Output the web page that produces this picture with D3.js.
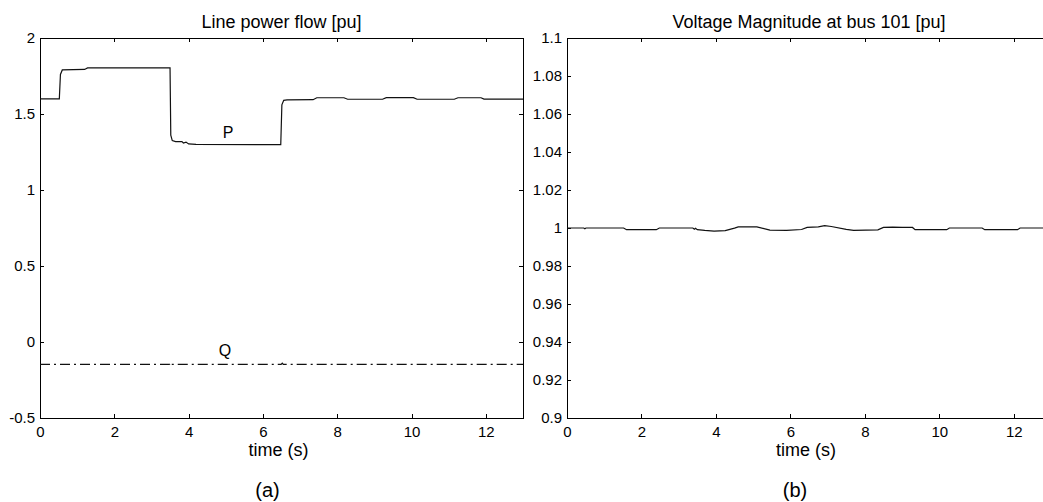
<!DOCTYPE html>
<html>
<head>
<meta charset="utf-8">
<script src="https://cdn.jsdelivr.net/npm/d3@7"></script>
<style>
  body { margin: 0; background: #fff; }
  svg { font-family: "Liberation Sans", Arial, sans-serif; }
  .axis path, .axis line { stroke: #000; stroke-width: 1px; shape-rendering: crispEdges; }
  .axis text { font-size: 15px; fill: #000; }
</style>
</head>
<body>
<svg id="svgMain" width="1043" height="502"></svg>
<script>
// data
const pTime  = [0, 0.52, 0.55, 0.6, 1.2, 1.28, 3.5, 3.52, 3.56, 3.65, 3.82, 3.86, 3.93, 4.0, 4.2, 6.48, 6.51, 6.56, 6.65, 7.35, 7.45, 8.18, 8.28, 9.22, 9.32, 10.05, 10.15, 11.15, 11.25, 11.87, 11.95, 13];
const pValue = [1.6, 1.6, 1.76, 1.79, 1.793, 1.803, 1.803, 1.36, 1.325, 1.318, 1.318, 1.309, 1.315, 1.303, 1.3, 1.298, 1.56, 1.59, 1.593, 1.594, 1.607, 1.607, 1.597, 1.597, 1.608, 1.608, 1.597, 1.597, 1.607, 1.607, 1.598, 1.598];

const qTime  = [0, 3.49, 3.51, 3.54, 6.49, 6.52, 6.55, 13];
const qValue = [-0.147, -0.147, -0.159, -0.147, -0.147, -0.139, -0.147, -0.147];

const vTime  = [0, 0.45, 0.48, 0.51, 1.52, 1.6, 2.4, 2.48, 3.38, 3.42, 3.45, 3.5, 3.7, 3.95, 4.25, 4.5, 4.6, 5.1, 5.45, 5.9, 6.3, 6.45, 6.75, 6.92, 7.1, 7.5, 7.7, 8.35, 8.5, 8.75, 9.0, 9.28, 9.35, 10.2, 10.27, 11.15, 11.22, 12.1, 12.17, 13];
const vValue = [1.0, 1.0, 0.9996, 1.0, 1.0, 0.9991, 0.9991, 1.0, 1.0, 0.9994, 0.9999, 0.9991, 0.9987, 0.9984, 0.9986, 0.9999, 1.0006, 1.0006, 0.9989, 0.9988, 0.9992, 1.0003, 1.0006, 1.0012, 1.0008, 0.9993, 0.9988, 0.999, 1.0003, 1.0005, 1.0003, 1.0003, 0.9991, 0.9991, 1.0, 1.0, 0.9991, 0.9991, 1.0, 1.0];

const timeTicks = [0, 2, 4, 6, 8, 10, 12];
const powerTicks = [-0.5, 0, 0.5, 1, 1.5, 2];
const voltTicks = [0.9, 0.92, 0.94, 0.96, 0.98, 1, 1.02, 1.04, 1.06, 1.08, 1.1];

let svgMain = d3.select("#svgMain");

//Plot boxes
const plotTop = 38, plotBottom = 418;
const leftBox = { x0: 40, x1: 523 };
const rightBox = { x0: 567, x1: 1051 };

// plain hyphen for negatives, like the original
const tickFmt = d => d3.format("~g")(d).replace("\u2212", "-");

function drawFrame(box, yScale, yTicks, title, letter) {
    const xScale = d3.scaleLinear().domain([0, 13]).range([box.x0, box.x1]);

    // bottom axis with labels
    svgMain.append("g")
        .attr("class", "axis")
        .attr("transform", "translate(0," + plotBottom + ")")
        .call(d3.axisBottom(xScale).tickValues(timeTicks).tickSize(-4).tickSizeOuter(0).tickPadding(8).tickFormat(d3.format("d")));

    // top axis, ticks only
    svgMain.append("g")
        .attr("class", "axis")
        .attr("transform", "translate(0," + plotTop + ")")
        .call(d3.axisTop(xScale).tickValues(timeTicks).tickSize(-4).tickSizeOuter(0).tickFormat(""));

    // left axis with labels
    svgMain.append("g")
        .attr("class", "axis")
        .attr("transform", "translate(" + box.x0 + ",0)")
        .call(d3.axisLeft(yScale).tickValues(yTicks).tickSize(-4).tickSizeOuter(0).tickPadding(5).tickFormat(tickFmt));

    // right axis, ticks only
    svgMain.append("g")
        .attr("class", "axis")
        .attr("transform", "translate(" + box.x1 + ",0)")
        .call(d3.axisRight(yScale).tickValues(yTicks).tickSize(-4).tickSizeOuter(0).tickFormat(""));

    const mid = (box.x0 + box.x1) / 2;

    //Title
    svgMain.append("text")
        .attr("x", mid)
        .attr("y", 28)
        .attr("font-size", "18px")
        .attr("text-anchor", "middle")
        .text(title);

    // x label
    svgMain.append("text")
        .attr("x", mid - 3)
        .attr("y", 456)
        .attr("font-size", "18px")
        .attr("text-anchor", "middle")
        .text("time (s)");

    // panel letter
    svgMain.append("text")
        .attr("x", mid - 14)
        .attr("y", 497)
        .attr("font-size", "20px")
        .attr("text-anchor", "middle")
        .text(letter);

    return xScale;
}

const powerScale = d3.scaleLinear().domain([-0.5, 2]).range([plotBottom, plotTop]);
const voltScale = d3.scaleLinear().domain([0.9, 1.1]).range([plotBottom, plotTop]);

const xLeft = drawFrame(leftBox, powerScale, powerTicks, "Line power flow [pu]", "(a)");
const xRight = drawFrame(rightBox, voltScale, voltTicks, "Voltage Magnitude at bus 101 [pu]", "(b)");

// P line
const lineP = d3.line()
    .x((d, i) => xLeft(pTime[i]))
    .y(d => powerScale(d));
svgMain.append("path")
    .attr("d", lineP(pValue))
    .style("fill", "none")
    .style("stroke", "#111")
    .style("stroke-width", 1.2);

// Q line (dash-dot)
const lineQ = d3.line()
    .x((d, i) => xLeft(qTime[i]))
    .y(d => powerScale(d));
svgMain.append("path")
    .attr("d", lineQ(qValue))
    .style("fill", "none")
    .style("stroke", "#111")
    .style("stroke-width", 1.2)
    .style("stroke-dasharray", "10,4,2,4");

// curve labels
svgMain.append("text")
    .attr("x", xLeft(5.06))
    .attr("y", powerScale(1.34))
    .attr("font-size", "16px")
    .attr("text-anchor", "middle")
    .text("P");
svgMain.append("text")
    .attr("x", xLeft(4.98))
    .attr("y", powerScale(-0.095))
    .attr("font-size", "16px")
    .attr("text-anchor", "middle")
    .text("Q");

// voltage line
const lineV = d3.line()
    .x((d, i) => xRight(vTime[i]))
    .y(d => voltScale(d));
svgMain.append("path")
    .attr("d", lineV(vValue))
    .style("fill", "none")
    .style("stroke", "#111")
    .style("stroke-width", 1.2);
</script>
</body>
</html>
